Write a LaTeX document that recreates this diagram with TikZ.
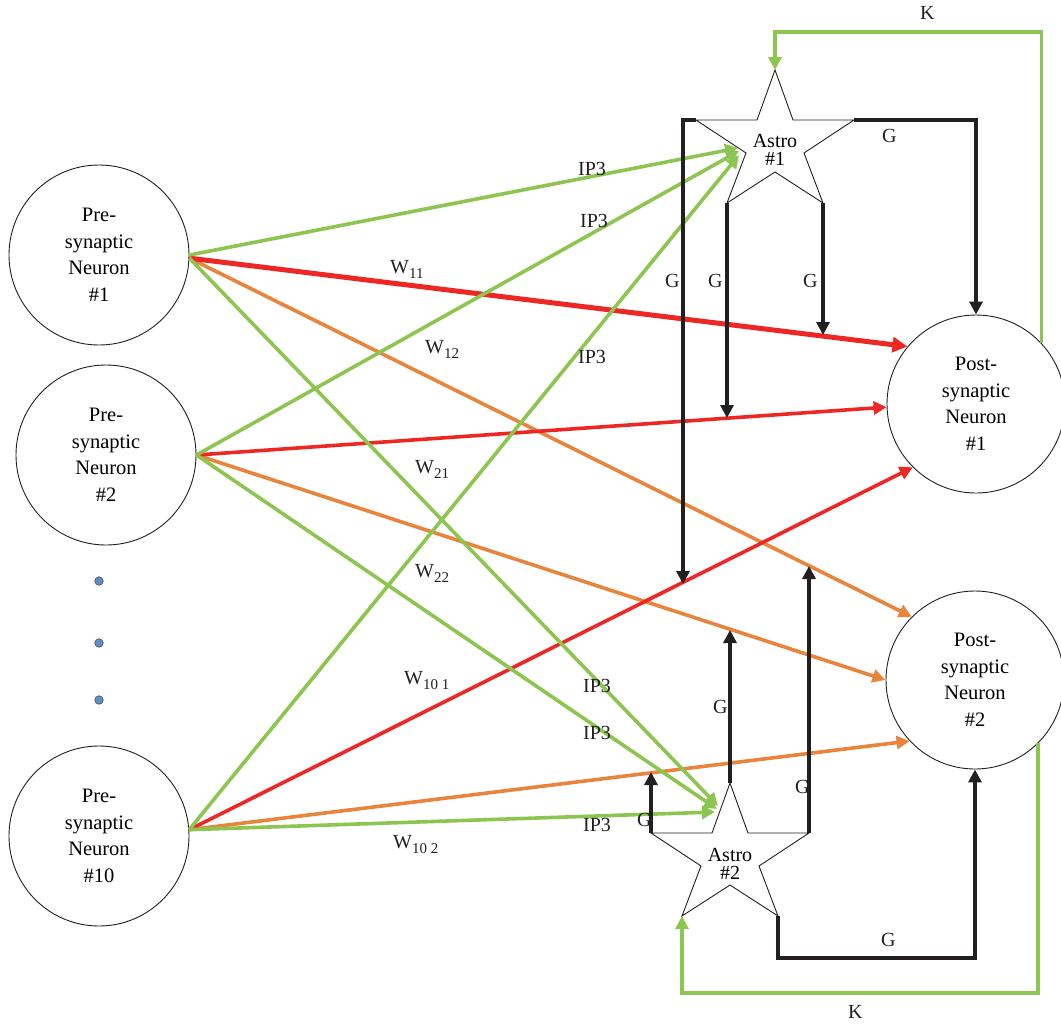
\documentclass[tikz,border=0pt]{standalone}
\usepackage{fontspec}
\setmainfont{Liberation Serif}
\usetikzlibrary{arrows.meta,calc}
\definecolor{cgreen}{RGB}{140,198,81}
\definecolor{cred}{RGB}{237,40,36}
\definecolor{corange}{RGB}{232,132,59}
\definecolor{cblack}{RGB}{35,31,32}
\definecolor{cdot}{RGB}{91,143,201}
\newcommand\wsub[1]{\raisebox{-5pt}{\fontsize{15}{15}\selectfont #1}}
\begin{document}
\begin{tikzpicture}[x=1pt,y=-1pt,
  neuron/.style={draw=cblack,line width=0.9pt,circle,minimum size=180pt,inner sep=0pt,align=center,font=\fontsize{20.5}{26.5}\selectfont},
  astrotxt/.style={inner sep=0pt,align=center,font=\fontsize{20}{18}\selectfont},
  lbl/.style={anchor=base west,inner sep=0pt,text=cblack,font=\fontsize{20}{24}\selectfont},
  tip/.style={-{Triangle[length=13pt,width=13pt]}},
  ipline/.style={tip,draw=cgreen,line width=3.6pt},
  kline/.style={tip,draw=cgreen,line width=3.6pt},
  wred/.style={tip,draw=cred,line width=3.6pt},
  worange/.style={tip,draw=corange,line width=3.6pt},
  gline/.style={tip,draw=cblack,line width=3.8pt},
  dotn/.style={circle,draw=cblack!80,line width=0.6pt,fill=cdot,minimum size=8.5pt,inner sep=0pt},
  astro/.pic={
    \draw[draw=cblack,line width=0.9pt,fill=white] (0,0) -- (18,50) -- (79,50) -- (29,83) -- (48,133) -- (0,102) -- (-48,133) -- (-29,83) -- (-79,50) -- (-18,50) -- cycle;
    \coordinate (-top) at (0,0);
    \coordinate (-l) at (-79,50);
    \coordinate (-r) at (79,50);
    \coordinate (-bl) at (-48,133);
    \coordinate (-br) at (48,133);
  }
]
\useasboundingbox (0,0) rectangle (1061,1026);
\clip (0,0) rectangle (1061,1026);

% neurons
\node[neuron] (pre1) at (99,255) {Pre-\\synaptic\\Neuron\\\#1};
\node[neuron] (pre2) at (106,455) {Pre-\\synaptic\\Neuron\\\#2};
\node[neuron] (pre10) at (99,836) {Pre-\\synaptic\\Neuron\\\#10};
\node[neuron,minimum size=178pt] (post1) at (976,404) {Post-\\synaptic\\Neuron\\\#1};
\node[neuron,minimum size=178pt] (post2) at (975,680) {Post-\\synaptic\\Neuron\\\#2};

% dots
\node[dotn] (d1) at (99,581) {};
\node[dotn] (d2) at (99,643) {};
\node[dotn] (d3) at (99,700) {};

% astrocytes
\pic (a1) at (775,70) {astro};
\pic (a2) at (730,783) {astro};
\node[astrotxt] (a1t) at (775,150) {Astro\\\#1};
\node[astrotxt] (a2t) at (730,864) {Astro\\\#2};

% arrow targets into astrocytes
\coordinate (a1i1) at (738,148);
\coordinate (a1i2) at (739,151);
\coordinate (a1i3) at (739,155);
\coordinate (a2i1) at (718,806);
\coordinate (a2i2) at (717,809);
\coordinate (a2i3) at (715,812);

% weights: orange
\draw[worange] (pre1.-2) -- (post2.135);
\draw[worange] (pre2.east) -- (post2.180);
\draw[worange] (pre10.4) -- (post2.223);
% weights: red
\draw[wred] (pre2.east) -- (post1.182);
\draw[wred] (pre10.4) -- (post1.225);
\draw[wred,line width=5pt,-{Triangle[length=15pt,width=15pt]}] (pre1.-2) -- (post1.140);

% IP3
\draw[ipline] (pre1.east) -- (a1i1);
\draw[ipline] (pre2.east) -- (a1i2);
\draw[ipline] (pre10.4) -- (a1i3);
\draw[ipline] (pre1.-2) -- (a2i1);
\draw[ipline] (pre2.east) -- (a2i2);
\draw[ipline] (pre10.4) -- (a2i3);

% gliotransmitter arrows from astro 1
\coordinate (g1b) at (683,120);
\coordinate (g1e) at (683,584);
\coordinate (g2e) at (727,418);
\coordinate (g3e) at (823,335);
\draw[gline] (a1-l) -- (g1b) -- (g1e);
\draw[gline] (a1-bl) -- (g2e);
\draw[gline] (a1-br) -- (g3e);
\draw[gline] (a1-r) -| (post1.north);

% gliotransmitter arrows from astro 2
\coordinate (g5e) at (651,772);
\coordinate (g6e) at (730,630);
\coordinate (g7e) at (809,566);
\coordinate (g8b) at (778,958);
\draw[gline] (a2-l) -- (g5e);
\draw[gline] (a2-top) -- (g6e);
\draw[gline] (a2-r) -- (g7e);
\draw[gline] (a2-br) -- (g8b) -| (post2.south);

% K feedback
\coordinate (k1) at (775,32);
\coordinate (k2) at (682,993);
\draw[kline] (post1.43) |- (k1) -- (a1-top);
\draw[kline] (post2.-45) |- (k2) -- (a2-bl);

% labels
\node[lbl] (lip1) at (578,175) {IP3};
\node[lbl] (lip2) at (580,227) {IP3};
\node[lbl] (lip3) at (578,363) {IP3};
\node[lbl] (lip4) at (583,692) {IP3};
\node[lbl] (lip5) at (583,739) {IP3};
\node[lbl] (lip6) at (583,831) {IP3};

\node[lbl] (lw11) at (390,273) {W\wsub{11}};
\node[lbl] (lw12) at (425,353) {W\wsub{12}};
\node[lbl] (lw21) at (415,473) {W\wsub{21}};
\node[lbl] (lw22) at (415,577) {W\wsub{22}};
\node[lbl] (lw101) at (404,684) {W\wsub{10 1}};
\node[lbl] (lw102) at (393,848) {W\wsub{10 2}};

\node[lbl] (lg1) at (665,287) {G};
\node[lbl] (lg2) at (708,287) {G};
\node[lbl] (lg3) at (803,287) {G};
\node[lbl] (lg4) at (882,142) {G};
\node[lbl] (lg5) at (713,713) {G};
\node[lbl] (lg6) at (795,793) {G};
\node[lbl] (lg7) at (637,826) {G};
\node[lbl] (lg8) at (881,946) {G};
\node[lbl] (lk1) at (920,19) {K};
\node[lbl] (lk2) at (848,1018) {K};
\end{tikzpicture}
\end{document}
